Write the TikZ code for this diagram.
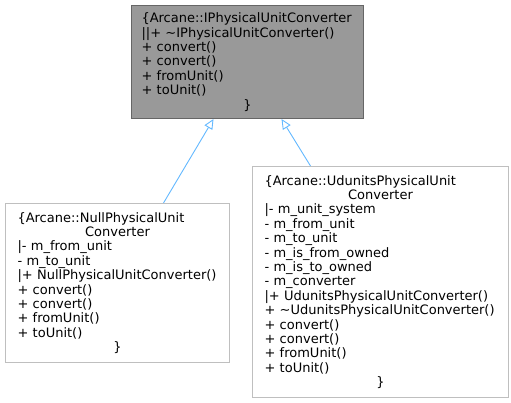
\documentclass[tikz,border=0pt]{standalone}
\usepackage{fontspec}
\setmainfont{DejaVu Sans}
\usepackage{xcolor}
\definecolor{edgeblue}{HTML}{63B8FF}
\definecolor{boxgray}{HTML}{999999}
\definecolor{boxdark}{HTML}{666666}
\definecolor{boxlight}{HTML}{BFBFBF}
\usetikzlibrary{arrows.meta, positioning}
\tikzset{
  clsbox/.style ={rectangle, draw=boxlight, line width=1pt, fill=white, text=black, align=left,
                  anchor=north west, inner xsep=12pt, inner ysep=0pt, font=\fontsize{13}{14.4}\selectfont},
  clsboxg/.style={clsbox, draw=boxdark, fill=boxgray, inner xsep=10pt},
  inharr/.style ={{Triangle[open, length=10pt, width=9pt]}-, line width=0.9pt, color=edgeblue},
}
\newcommand{\midline}[1]{\hfill#1\hfill\null}
\begin{document}
\begin{tikzpicture}[x=1pt, y=-1pt]
  \useasboundingbox (0,0) rectangle (511,403);
  \node[clsboxg, text width=212pt, minimum height=113pt] (iconv) at (131,5)
    {\{Arcane::IPhysicalUnitConverter\\||+ \textasciitilde IPhysicalUnitConverter()\\+ convert()\\+ convert()\\+ fromUnit()\\+ toUnit()\\\midline{\}}};
  \node[clsbox, text width=200pt, minimum height=159pt] (nullconv) at (5,203)
    {\{Arcane::NullPhysicalUnit\\\midline{Converter}\\|- m\_from\_unit\\- m\_to\_unit\\|+ NullPhysicalUnitConverter()\\+ convert()\\+ convert()\\+ fromUnit()\\+ toUnit()\\\midline{\}}};
  \node[clsbox, text width=232pt, minimum height=231pt] (udconv) at (252,166)
    {\{Arcane::UdunitsPhysicalUnit\\\midline{Converter}\\|- m\_unit\_system\\- m\_from\_unit\\- m\_to\_unit\\- m\_is\_from\_owned\\- m\_is\_to\_owned\\- m\_converter\\|+ UdunitsPhysicalUnitConverter()\\+ \textasciitilde UdunitsPhysicalUnitConverter()\\+ convert()\\+ convert()\\+ fromUnit()\\+ toUnit()\\\midline{\}}};
  \draw[inharr] ([xshift=-34pt]iconv.south) -- ([xshift=46pt]nullconv.north);
  \draw[inharr] ([xshift=34pt]iconv.south) -- ([xshift=-70pt]udconv.north);
\end{tikzpicture}
\end{document}
